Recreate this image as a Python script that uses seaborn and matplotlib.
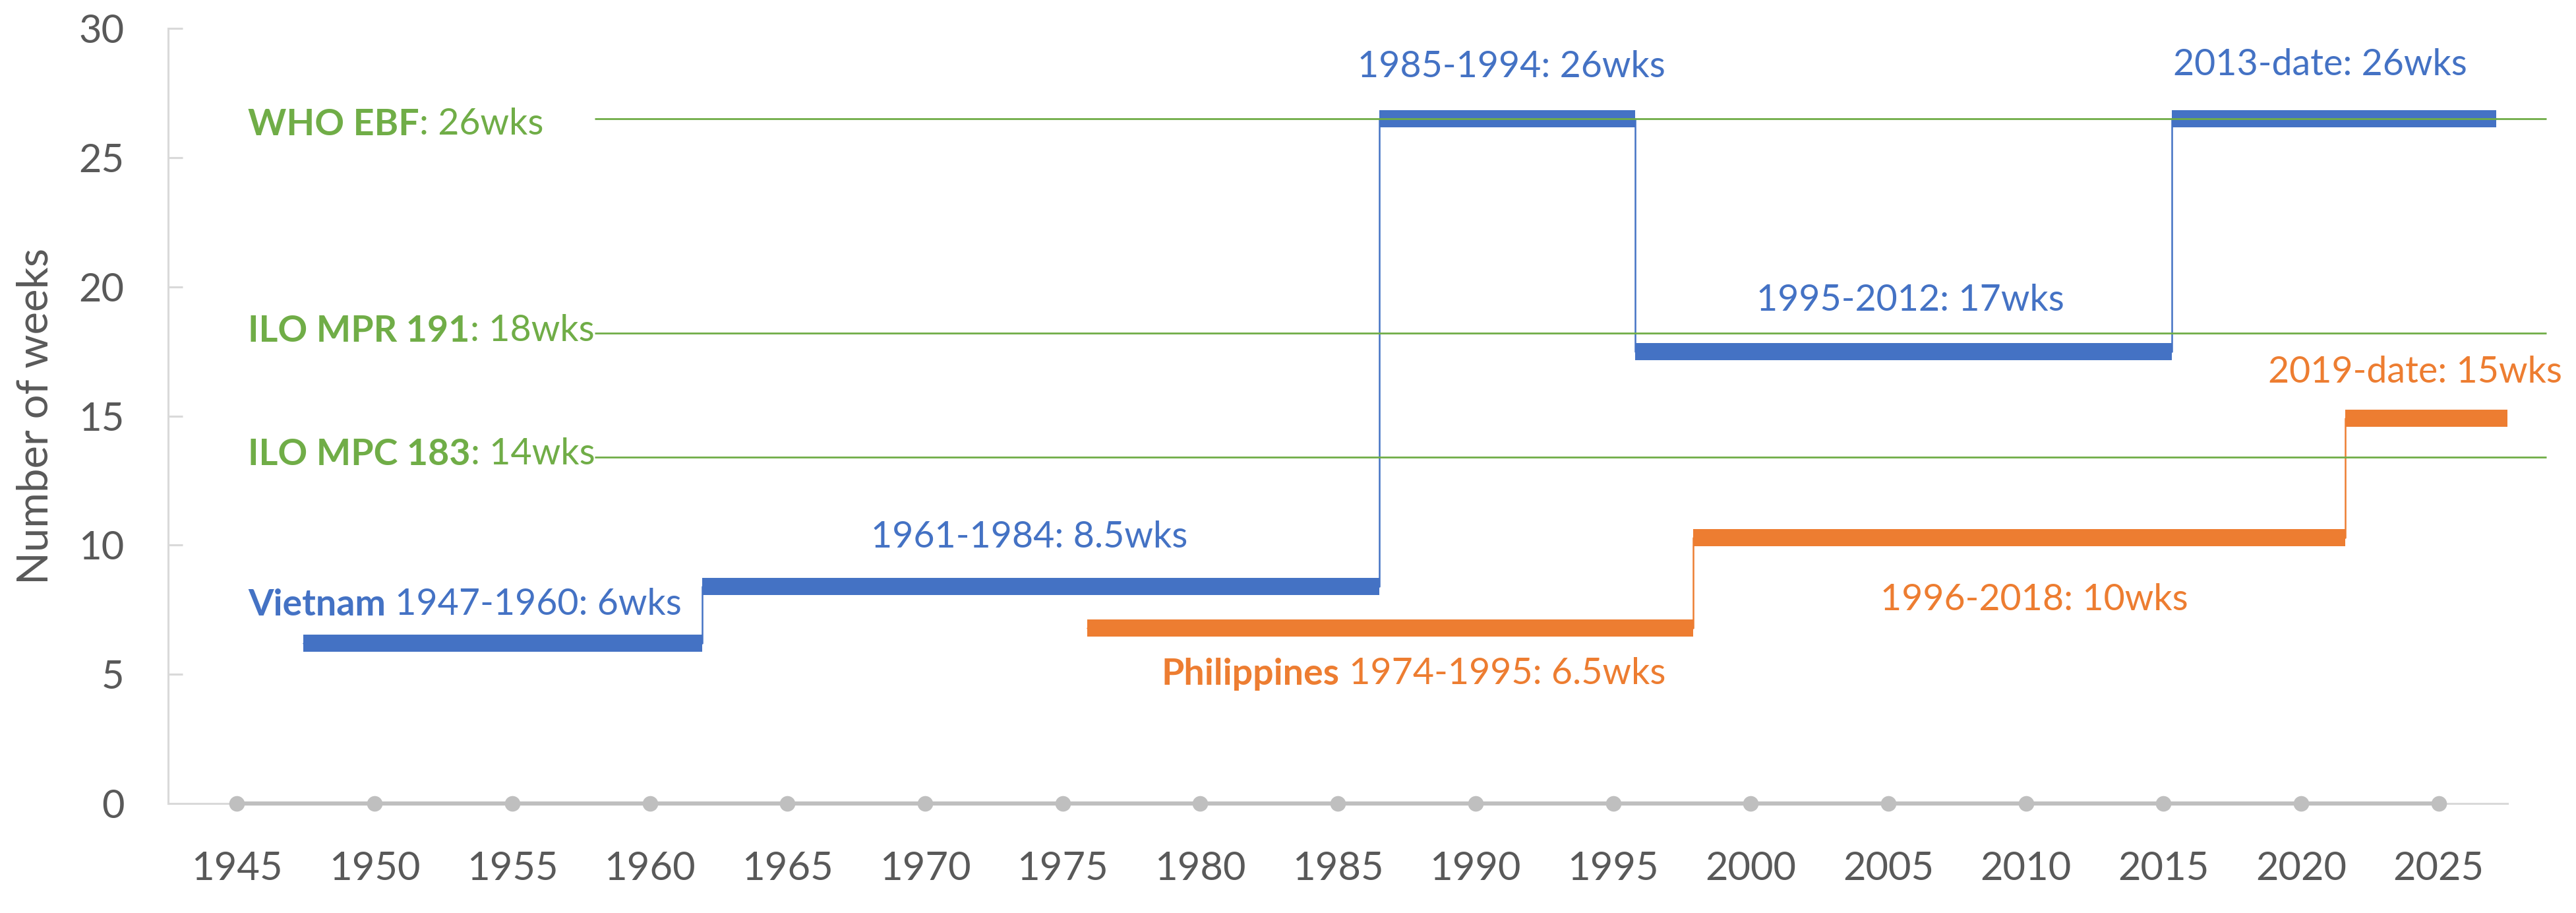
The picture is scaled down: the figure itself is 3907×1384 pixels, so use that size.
import matplotlib
matplotlib.use('Agg')
import matplotlib.pyplot as plt
import seaborn as sns
import pandas as pd

# Data
axis_years = list(range(1945, 2030, 5))

vn_breaks = [1947.4, 1961.9, 1986.5, 1995.8, 2015.3, 2027.1]
vn_weeks = [6.2, 8.4, 26.5, 17.5, 26.5]
vn_labels = ['1947-1960: 6wks', '1961-1984: 8.5wks', '1985-1994: 26wks',
             '1995-2012: 17wks', '2013-date: 26wks']

ph_breaks = [1975.9, 1997.9, 2021.6, 2027.5]
ph_weeks = [6.8, 10.3, 14.9]
ph_labels = ['1974-1995: 6.5wks', '1996-2018: 10wks', '2019-date: 15wks']

std_names = ['WHO EBF', 'ILO MPR 191', 'ILO MPC 183']
std_text = ['26wks', '18wks', '14wks']
std_weeks = [26.5, 18.2, 13.4]
std_span = (1958.0, 2028.9)

# colours
BLUE = '#4472C4'
ORANGE = '#ED7D31'
GREEN = '#70AD47'
GREY_TXT = '#595959'
GREY_AX = '#D9D9D9'
GREY_DOT = '#BFBFBF'

sns.set_theme(style='white')
plt.rcParams['font.family'] = ['Lato', 'DejaVu Sans']

fig = plt.figure(figsize=(39.07, 13.84), dpi=100)
ax = fig.add_axes([0.0653, 0.1199, 0.9081, 0.849])

# baseline with dots
base = pd.DataFrame({'year': axis_years, 'v': [0] * len(axis_years)})
sns.lineplot(data=base, x='year', y='v', ax=ax, color=GREY_DOT, linewidth=4.5,
             marker='o', markersize=17, markeredgewidth=0, zorder=5)
ax.lines[-1].set_clip_on(False)

# standards (green reference lines)
ax.hlines(std_weeks, std_span[0], std_span[1], color=GREEN, linewidth=2.0,
          zorder=4, clip_on=False)


def steps(breaks, weeks, color):
    df = pd.DataFrame({'year': breaks, 'w': weeks + [weeks[-1]]})
    sns.lineplot(data=df, x='year', y='w', ax=ax, color=color, linewidth=1.8,
                 drawstyle='steps-post', zorder=2)
    ax.hlines(weeks, breaks[:-1], breaks[1:], color=color, linewidth=18.7,
              capstyle='butt', zorder=2)


steps(vn_breaks, vn_weeks, BLUE)
steps(ph_breaks, ph_weeks, ORANGE)

FS = 40


def two_part(x, y, bold, rest, color):
    t = ax.text(x, y, bold, color=color, fontsize=FS, fontweight='bold',
                ha='left', va='baseline')
    ax.annotate(rest, xy=(1, 0), xycoords=t, color=color, fontsize=FS,
                ha='left', va='bottom')


# green labels
std_pos = [(1945.4, 25.86), (1945.4, 17.87), (1945.4, 13.10)]
for (x, y), name, txt in zip(std_pos, std_names, std_text):
    two_part(x, y, name, ': ' + txt, GREEN)

# blue labels
two_part(1945.4, 7.28, 'Vietnam', ' ' + vn_labels[0], BLUE)
vn_pos = [(1973.8, 9.91), (1991.3, 28.1), (2005.8, 19.07), (2020.7, 28.18)]
for (x, y), lab in zip(vn_pos, vn_labels[1:]):
    ax.text(x, y, lab, color=BLUE, fontsize=FS, ha='center', va='baseline')

# orange labels
two_part(1978.6, 4.6, 'Philippines', ' ' + ph_labels[0], ORANGE)
ph_pos = [(2010.3, 7.48), (2024.15, 16.29)]
for (x, y), lab in zip(ph_pos, ph_labels[1:]):
    ax.text(x, y, lab, color=ORANGE, fontsize=FS, ha='center', va='baseline',
            clip_on=False)

ax.set_xlim(1942.5, 2027.5)
ax.set_ylim(0, 30)
ax.set_xticks(axis_years)
ax.set_yticks(range(0, 31, 5))
ax.set_xlabel('')
ax.set_ylabel('Number of weeks', fontsize=47, color=GREY_TXT)
ax.yaxis.set_label_coords(-0.0485, 0.5)

for s in ['top', 'right']:
    ax.spines[s].set_visible(False)
for s in ['left', 'bottom']:
    ax.spines[s].set_color(GREY_AX)
    ax.spines[s].set_linewidth(2.2)

ax.tick_params(axis='y', direction='in', length=16, width=2.2, color=GREY_AX,
               labelcolor=GREY_TXT, labelsize=43, pad=48, left=True)
ax.tick_params(axis='x', length=0, labelcolor=GREY_TXT, labelsize=43, pad=52)
ax.grid(False)

fig.savefig('out.png', dpi=100, facecolor='white')
